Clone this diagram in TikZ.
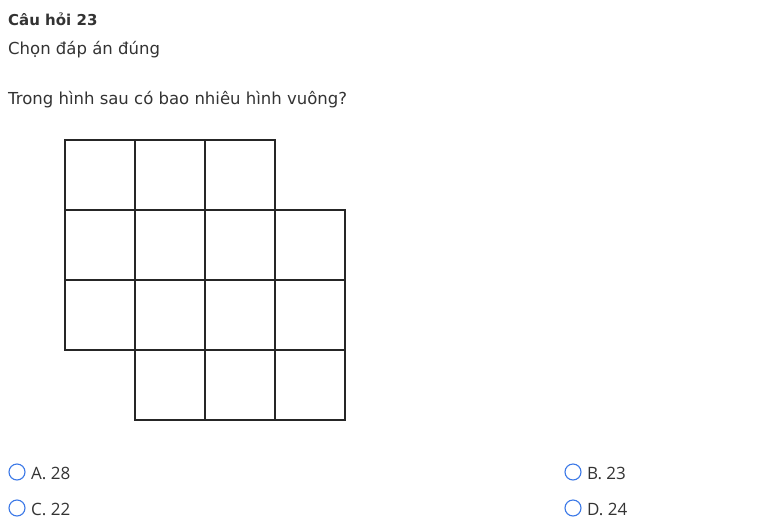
\documentclass[tikz,border=0pt]{standalone}
\usepackage{fontspec}
\setmainfont{DejaVu Sans}
\newfontfamily\optfont{Open Sans}
\definecolor{txt}{HTML}{333333}
\definecolor{radio}{HTML}{3B78E7}
\begin{document}
\begin{tikzpicture}[x=1pt,y=-1pt,
  qtext/.style={anchor=base west,inner sep=0pt,text=txt,font=\fontsize{16.5}{19}\selectfont},
  opttext/.style={anchor=base west,inner sep=0pt,text=txt,font=\optfont\fontsize{17}{20}\selectfont},
  radiobtn/.style={circle,draw=radio,line width=1.1pt,minimum size=16pt,inner sep=0pt},
  gridline/.style={line width=1.4pt,black!85}]
\useasboundingbox (0,0) rectangle (772,523);
\node[qtext,font=\bfseries\fontsize{15}{18}\selectfont] (title) at (8,25) {Câu hỏi 23};
\node[qtext] (instr) at (8,54) {Chọn đáp án đúng};
\node[qtext] (question) at (8,104) {Trong hình sau có bao nhiêu hình vuông?};
% grid
\draw[gridline] (65,140) rectangle (135,210) (135,140) rectangle (205,210) (205,140) rectangle (275,210);
\foreach \r in {1,2} {
  \foreach \c in {0,1,2,3} {
    \draw[gridline] ({65+70*\c},{140+70*\r}) rectangle ++(70,70);
  }
}
\foreach \c in {1,2,3} {
  \draw[gridline] ({65+70*\c},350) rectangle ++(70,70);
}
% options
\node[radiobtn] (ra) at (17,472) {};
\node[opttext] (oa) at (31,479) {A. 28};
\node[radiobtn] (rb) at (573,472) {};
\node[opttext] (ob) at (587,479) {B. 23};
\node[radiobtn] (rc) at (17,508) {};
\node[opttext] (oc) at (31,515) {C. 22};
\node[radiobtn] (rd) at (573,508) {};
\node[opttext] (od) at (587,515) {D. 24};
\end{tikzpicture}
\end{document}
